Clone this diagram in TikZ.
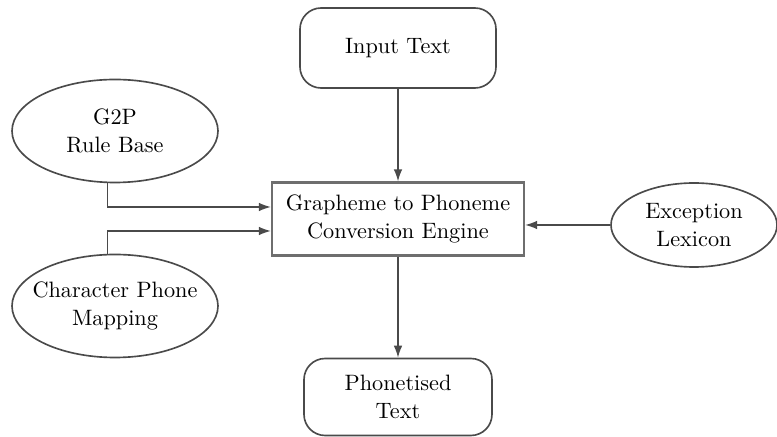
\documentclass[tikz,border=0pt]{standalone}
\usepackage{tikz}
\usetikzlibrary{arrows.meta, positioning, shapes.geometric}
\definecolor{edge}{HTML}{4A4A4A}
\tikzset{
	term/.style={draw=edge, line width=0.7pt, rounded corners=9pt,
		align=center, inner sep=2pt},
	source/.style={ellipse, draw=edge, line width=0.7pt,
		align=center, inner sep=0pt},
	engine/.style={draw=edge!80, line width=1pt, align=center, inner sep=2pt},
	arr/.style={-{Latex[length=1.8mm, width=1.3mm]}, line width=0.6pt, edge},
}

\begin{document}
\begin{tikzpicture}[font=\fontsize{9.5}{12}\selectfont]
			\useasboundingbox (0,0) rectangle (11.655,6.555);
			\node[term, minimum width=2.94cm, minimum height=1.2cm] (input) at (5.97,5.835) {Input Text};
			\node[engine, minimum width=3.78cm, minimum height=1.095cm] (eng) at (5.97,3.27) {Grapheme to Phoneme\\Conversion Engine};
			\node[term, minimum width=2.82cm, minimum height=1.155cm] (out) at (5.97,0.6) {Phonetised\\Text};
			\node[source, minimum width=3.09cm, minimum height=1.545cm] (rules) at (1.725,4.59) {G2P\\Rule Base};
			\node[source, inner xsep=-4.5pt, minimum width=3.09cm, minimum height=1.545cm] (chmap) at (1.725,1.965) {Character Phone\\Mapping};
			\node[source, minimum width=2.49cm, minimum height=1.26cm] (lex) at (10.41,3.18) {Exception\\Lexicon};
			% feeds into the engine
			\coordinate (r) at ([xshift=-1.1mm]rules.south);
			\coordinate (c) at ([xshift=-1.1mm]chmap.north);
			\draw[arr] (input) -- (eng);
			\draw[arr] (r) |- ([yshift=1.8mm]eng.west);
			\draw[arr] (c) |- ([yshift=-1.8mm]eng.west);
			\draw[arr] (lex.west) -- (lex.west -| eng.east);
			\draw[arr] (eng) -- (out);
		\end{tikzpicture}
\end{document}
